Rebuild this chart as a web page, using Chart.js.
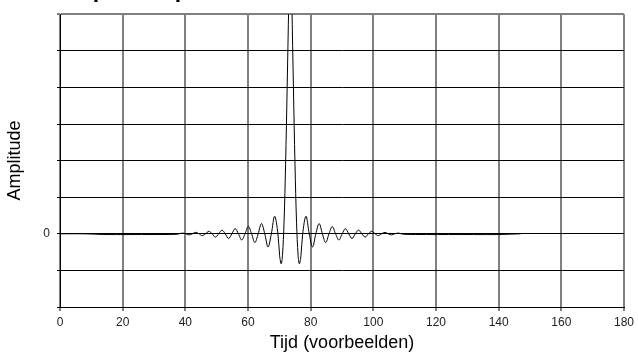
<!DOCTYPE html>
<html>
<head>
<meta charset="utf-8">
<script src="https://cdn.jsdelivr.net/npm/chart.js@4.4.0/dist/chart.umd.min.js"></script>
<style>
  html, body { margin: 0; padding: 0; background: #fff; }
  #wrap { position: relative; width: 638px; height: 358px; }
</style>
</head>
<body>
<div id="wrap"><canvas id="line"></canvas></div>
<script>
// title is cut off at the top of the reference, only descenders show
const titel = "Impulsrespons";

// time in samples
const tijd = [
  0, 8, 14, 22, 30, 37,
  38.05, 39.1, 40.15, 41.2, 42.25, 43.3, 44.35, 45.4, 46.45, 47.5,
  48.55, 49.6, 50.65, 51.7, 52.75, 53.8, 54.85, 55.9, 56.95, 58.0,
  59.05, 60.1, 61.15, 62.2, 63.25, 64.3, 65.35, 66.4, 67.45, 68.5, 69.55,
  70.1, 70.6, 71.0, 71.5, 72.0, 72.5, 73.0, 73.5, 74.0, 74.5, 75.0, 75.5, 76.0, 76.4, 76.9,
  77.45, 78.5, 79.55, 80.6, 81.65, 82.7, 83.75, 84.8, 85.85, 86.9,
  87.95, 89.0, 90.05, 91.1, 92.15, 93.2, 94.25, 95.3, 96.35, 97.4,
  98.45, 99.5, 100.55, 101.6, 102.65, 103.7, 104.75, 105.8, 106.85, 107.9, 108.95,
  110, 117, 124, 132, 140, 147
];

const amplitude = [
  0, 0, -0.02, -0.02, -0.02, -0.015,
  0, 0.02, 0, -0.03, 0, 0.04, 0, -0.05, 0, 0.07,
  0, -0.09, 0, 0.10, 0, -0.13, 0, 0.14, 0, -0.17,
  0, 0.20, 0, -0.24, 0, 0.28, 0, -0.36, 0, 0.48, 0,
  -0.6, -0.82, -0.6, 0.3, 1.9, 4.0, 6.3, 8.6, 6.3, 4.0, 1.9, 0.3, -0.6, -0.82, -0.6,
  0, 0.48, 0, -0.36, 0, 0.28, 0, -0.24, 0, 0.20,
  0, -0.17, 0, 0.14, 0, -0.13, 0, 0.10, 0, -0.09,
  0, 0.07, 0, -0.05, 0, 0.04, 0, -0.03, 0, 0.02, 0,
  -0.015, -0.02, -0.02, -0.02, -0.02, 0
];

const xMin = 0, xMax = 180, xStep = 20;
const yMin = -2, yMax = 6, yStep = 1;

const fontFam = '"Liberation Sans", Arial, sans-serif';

const cutTitle = {
  id: "cutTitle",
  afterDraw(chart) {
    const c = chart.ctx;
    c.save();
    c.font = "bold 23px " + fontFam;
    c.fillStyle = "#000";
    c.textAlign = "left";
    c.textBaseline = "alphabetic";
    c.fillText(titel, 66, -3.5);
    c.restore();
  }
};

const ctx = document.getElementById("line");

new Chart(ctx, {
  type: "line",
  data: {
    datasets: [
      {
        label: "Amplitude",
        data: tijd.map((t, i) => ({ x: t, y: amplitude[i] })),
        borderColor: "#000",
        borderWidth: 1,
        pointRadius: 0,
        tension: 0.35,
        fill: false,
      },
    ],
  },
  options: {
    responsive: true,
    maintainAspectRatio: false,
    animation: false,
    layout: { padding: { top: 10, right: 9, left: 0, bottom: 0 } },
    plugins: {
      legend: { display: false },
      title: { display: false },
      tooltip: { enabled: false },
    },
    scales: {
      x: {
        type: "linear",
        min: xMin,
        max: xMax,
        afterFit: (s) => { s.height = 51; },
        ticks: {
          stepSize: xStep,
          maxRotation: 0,
          padding: 4,
          color: "#222",
          font: { family: fontFam, size: 12 },
        },
        grid: { color: "#808080", lineWidth: 2, tickLength: 4 },
        border: { color: "#000", width: 1 },
        title: {
          display: true,
          text: "Tijd (voorbeelden)",
          color: "#000",
          font: { family: fontFam, size: 18 },
          padding: { top: 0, bottom: 4 },
        },
      },
      y: {
        min: yMin,
        max: yMax,
        afterFit: (s) => { s.width = 60; },
        ticks: {
          stepSize: yStep,
          padding: 7,
          color: "#222",
          font: { family: fontFam, size: 12 },
          callback: (v) => (v === 0 ? "0" : ""),
        },
        grid: {
          color: (c) => (c.tick && c.tick.value === yMax ? "#808080" : "#000"),
          lineWidth: (c) => (c.tick && c.tick.value === yMax ? 2 : 1),
          tickLength: 3,
        },
        border: { color: "#000", width: 1 },
        title: {
          display: true,
          text: "Amplitude",
          color: "#000",
          font: { family: fontFam, size: 18 },
          padding: { top: 4, bottom: 0 },
        },
      },
    },
  },
  plugins: [cutTitle],
});
</script>
</body>
</html>
